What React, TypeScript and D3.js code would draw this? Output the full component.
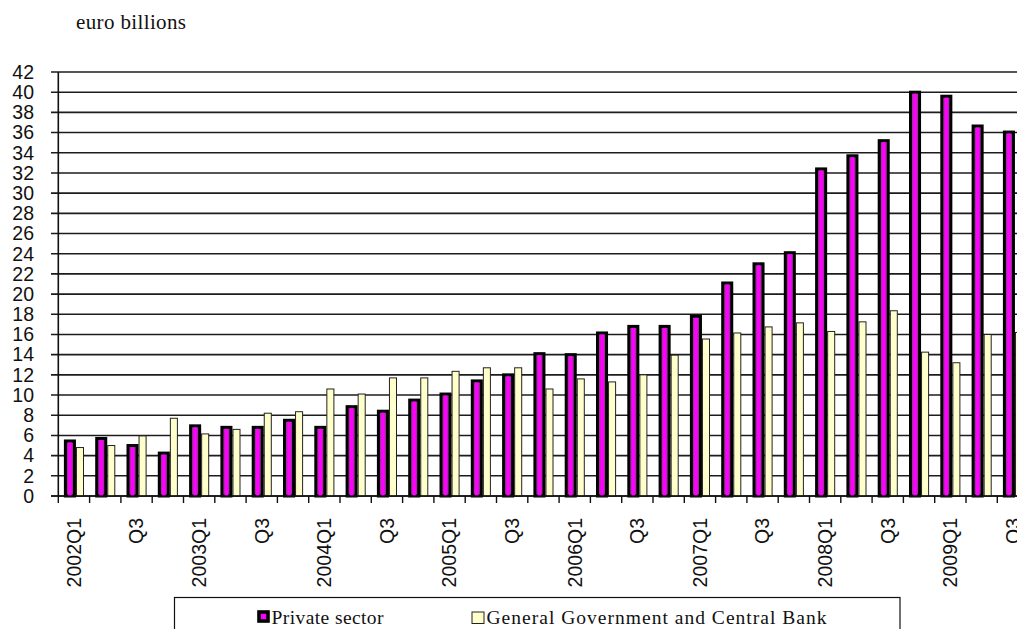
import React from "react";
import * as d3 from "d3";

// Quarterly flows, euro billions
const quarters = [
  "2002Q1", "2002Q2", "2002Q3", "2002Q4",
  "2003Q1", "2003Q2", "2003Q3", "2003Q4",
  "2004Q1", "2004Q2", "2004Q3", "2004Q4",
  "2005Q1", "2005Q2", "2005Q3", "2005Q4",
  "2006Q1", "2006Q2", "2006Q3", "2006Q4",
  "2007Q1", "2007Q2", "2007Q3", "2007Q4",
  "2008Q1", "2008Q2", "2008Q3", "2008Q4",
  "2009Q1", "2009Q2", "2009Q3",
];

// Axis labels shown under every other quarter
const quarterLabels = [
  "2002Q1", "", "Q3", "",
  "2003Q1", "", "Q3", "",
  "2004Q1", "", "Q3", "",
  "2005Q1", "", "Q3", "",
  "2006Q1", "", "Q3", "",
  "2007Q1", "", "Q3", "",
  "2008Q1", "", "Q3", "",
  "2009Q1", "", "Q3",
];

const privateSector = [
  5.45, 5.7, 5.0, 4.25,
  6.95, 6.8, 6.8, 7.5,
  6.8, 8.85, 8.4, 9.5,
  10.1, 11.4, 12.0, 14.1,
  14.0, 16.15, 16.8, 16.8,
  17.8, 21.1, 23.0, 24.1,
  32.4, 33.7, 35.2, 40.0,
  39.6, 36.65, 36.05,
];

const govCentralBank = [
  4.8, 5.0, 5.95, 7.7,
  6.15, 6.6, 8.2, 8.35,
  10.6, 10.1, 11.7, 11.7,
  12.35, 12.7, 12.7, 10.6,
  11.6, 11.3, 12.0, 13.95,
  15.55, 16.15, 16.75, 17.15,
  16.3, 17.25, 18.35, 14.25,
  13.2, 16.0, 16.2,
];

const yTicks = d3.range(0, 43, 2);
const seriesKeys = ["private", "gov"];

const W = 1017;
const H = 629;
const left = 58.3;
const step = 31.3;
const bottom = 496;
const top = 72;

export default function App() {
  const x0 = d3
    .scaleBand<string>()
    .domain(quarters)
    .range([left, left + step * quarters.length])
    .paddingInner(0)
    .paddingOuter(0);
  const x1 = d3
    .scaleBand<string>()
    .domain(seriesKeys)
    .range([5.6, 25.7])
    .paddingInner(0);
  const y = d3.scaleLinear().domain([0, 42]).range([bottom, top]);
  const bw = x1.bandwidth();

  const sans = "'Liberation Sans', Arial, sans-serif";
  const serif = "'Liberation Serif', 'Times New Roman', serif";

  return (
    <svg
      width={W}
      height={H}
      style={{ position: "absolute", left: 0, top: 0, background: "#fff" }}
    >
      <rect x={0} y={0} width={W} height={H} fill="#fff" />
      <text x={76} y={28.5} fontFamily={serif} fontSize={21} textLength={110} fill="#111">
        euro billions
      </text>

      {/* horizontal gridlines with left tick stubs */}
      {yTicks.map((t) => (
        <g key={t}>
          <line x1={51} x2={W} y1={y(t)} y2={y(t)} stroke="#1c1c1c" strokeWidth={1.6} />
          <text
            x={34}
            y={y(t)}
            dy="0.35em"
            textAnchor="end"
            fontFamily={sans}
            fontSize={19.5}
            fill="#111"
          >
            {t}
          </text>
        </g>
      ))}

      {/* bars */}
      {quarters.map((q, i) => {
        const cs = x0(q) as number;
        const pv = privateSector[i];
        const gv = govCentralBank[i];
        const px = cs + (x1("private") as number);
        const gx = cs + (x1("gov") as number);
        const pOuterW = bw + 2;
        const sw = 3;
        return (
          <g key={q}>
            <rect
              x={px + sw / 2}
              y={y(pv)}
              width={pOuterW - sw}
              height={bottom - y(pv)}
              fill="#a02ea0"
              stroke="#000"
              strokeWidth={sw}
            />
            <rect
              x={px + pOuterW / 2 - 1.7}
              y={y(pv) + sw / 2}
              width={3.4}
              height={bottom - y(pv) - sw / 2}
              fill="#ff00ff"
            />
            <rect
              x={gx + 2 + 0.5}
              y={y(gv)}
              width={bw - 2 - 1}
              height={bottom - y(gv)}
              fill="#ffffcc"
              stroke="#222"
              strokeWidth={1}
            />
          </g>
        );
      })}

      {/* axes */}
      <line x1={left} x2={left} y1={top} y2={bottom} stroke="#111" strokeWidth={1.6} />
      <line x1={51} x2={W} y1={bottom} y2={bottom} stroke="#111" strokeWidth={1.6} />
      {d3.range(quarters.length + 1).map((k) => {
        const tx = left + step * k;
        return <line key={k} x1={tx} x2={tx} y1={bottom} y2={bottom + 7} stroke="#111" strokeWidth={1.4} />;
      })}
      {quarters.map((q, i) => {
        const label = quarterLabels[i];
        if (!label) return null;
        const cx = (x0(q) as number) + x0.bandwidth() / 2;
        return (
          <text
            key={q}
            transform={`translate(${cx},518) rotate(-90)`}
            dy="0.35em"
            textAnchor="end"
            fontFamily={sans}
            fontSize={19.5}
            fill="#111"
          >
            {label}
          </text>
        );
      })}

      {/* legend */}
      <rect x={174.5} y={597.5} width={725.5} height={50} fill="#fff" stroke="#111" strokeWidth={1.2} />
      <rect x={259} y={612} width={9} height={9} fill="#ff00ff" stroke="#000" strokeWidth={3.6} />
      <text x={271.5} y={624} fontFamily={serif} fontSize={19.5} textLength={112} fill="#111">
        Private sector
      </text>
      <rect x={472} y={612} width={12} height={11.5} fill="#ffffcc" stroke="#222" strokeWidth={1} />
      <text x={486.5} y={624} fontFamily={serif} fontSize={19.5} textLength={340} fill="#111">
        General Government and Central Bank
      </text>
    </svg>
  );
}
